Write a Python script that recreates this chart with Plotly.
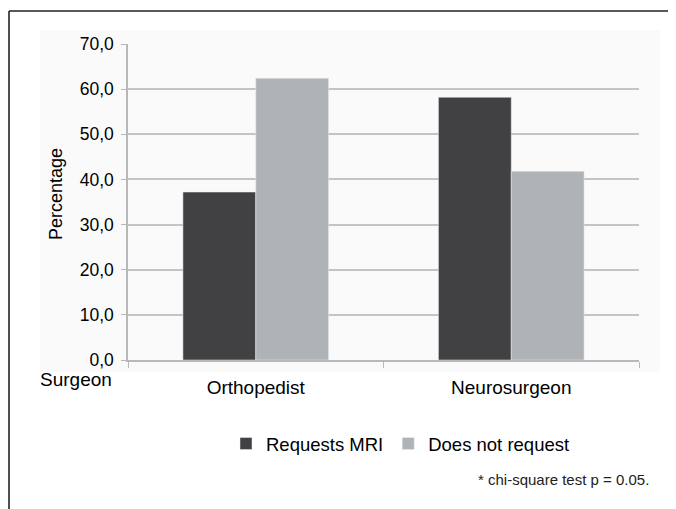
"""Grouped bar chart: MRI requests by surgeon type."""

import plotly.graph_objects as go

surgeons = ["Orthopedist", "Neurosurgeon"]
requests_mri = [37.2, 58.2]
does_not_request = [62.4, 41.8]
y_ticks = [0, 10, 20, 30, 40, 50, 60, 70]
y_tick_text = ["0,0", "10,0", "20,0", "30,0", "40,0", "50,0", "60,0", "70,0"]

# the page body adds an 8px margin, so the figure is a bit smaller and
# everything below is given in page pixels then shifted
OFF = 8
PAGE_W, PAGE_H = 676, 509
W, H = PAGE_W - OFF, PAGE_H - OFF
PLOT_L, PLOT_R, PLOT_T, PLOT_B = 128, 639, 44, 360
L, R, T, B = PLOT_L - OFF, PAGE_W - PLOT_R, PLOT_T - OFF, PAGE_H - PLOT_B
PW, PH = PLOT_R - PLOT_L, PLOT_B - PLOT_T


def px_x(x):
    return (x - PLOT_L) / PW


def px_y(y):
    return (PLOT_B - y) / PH


FONT = "Liberation Sans, Arial, Helvetica, sans-serif"

fig = go.Figure()
fig.add_trace(
    go.Bar(x=surgeons, y=requests_mri, name="Requests MRI", marker_color="#414143")
)
fig.add_trace(
    go.Bar(x=surgeons, y=does_not_request, name="Does not request", marker_color="#b0b3b6")
)

fig.update_layout(
    width=W,
    height=H,
    margin={"l": L, "r": R, "t": T, "b": B, "autoexpand": False},
    paper_bgcolor="white",
    plot_bgcolor="rgba(0,0,0,0)",
    font={"family": FONT, "size": 18, "color": "#000000"},
    barmode="group",
    bargap=0.43,
    bargroupgap=0,
    legend={
        "orientation": "h",
        "x": px_x(226),
        "xanchor": "left",
        "y": px_y(444),
        "yanchor": "middle",
        "font": {"size": 18.5},
        "itemwidth": 30,
        "bgcolor": "rgba(0,0,0,0)",
    },
    showlegend=True,
)
fig.update_xaxes(
    showline=True,
    linecolor="#b8b8b8",
    linewidth=1.5,
    ticks="outside",
    tickson="boundaries",
    ticklen=6,
    tickcolor="#b8b8b8",
    showgrid=False,
    ticklabelstandoff=9,
    tickfont={"size": 19},
)
fig.update_yaxes(
    range=[0, 70],
    tickvals=y_ticks,
    ticktext=y_tick_text,
    showline=True,
    linecolor="#b8b8b8",
    linewidth=1.5,
    ticks="outside",
    ticklen=5,
    tickcolor="#b8b8b8",
    showgrid=True,
    gridcolor="#c4c4c4",
    gridwidth=1.5,
    zeroline=False,
    ticklabelstandoff=4,
    tickfont={"size": 17.5},
)

shapes = [
    # faint panel behind the chart
    dict(type="rect", xref="paper", yref="paper", layer="below",
         x0=px_x(40), x1=px_x(660), y0=px_y(372), y1=px_y(30),
         fillcolor="#fafafa", line={"width": 0}),
    # frame lines (top and left)
    dict(type="line", xref="paper", yref="paper",
         x0=px_x(9), x1=px_x(PAGE_W + 2), y0=px_y(11), y1=px_y(11),
         line={"color": "#222222", "width": 1.6}),
    dict(type="line", xref="paper", yref="paper",
         x0=px_x(9), x1=px_x(9), y0=px_y(11), y1=px_y(PAGE_H + 2),
         line={"color": "#222222", "width": 1.6}),
]
fig.update_layout(shapes=shapes)

fig.add_annotation(
    text="Percentage", textangle=-90, showarrow=False,
    xref="paper", yref="paper", x=px_x(56), y=px_y(194),
    xanchor="center", yanchor="middle", font={"size": 18},
)
fig.add_annotation(
    text="Surgeon", showarrow=False,
    xref="paper", yref="paper", x=px_x(114), y=px_y(380),
    xanchor="right", yanchor="middle", font={"size": 19},
)
fig.add_annotation(
    text="* chi-square test p = 0.05.", showarrow=False,
    xref="paper", yref="paper", x=px_x(651), y=px_y(479),
    xanchor="right", yanchor="middle", font={"size": 15, "color": "#222222"},
)

fig.write_html("out.html")
